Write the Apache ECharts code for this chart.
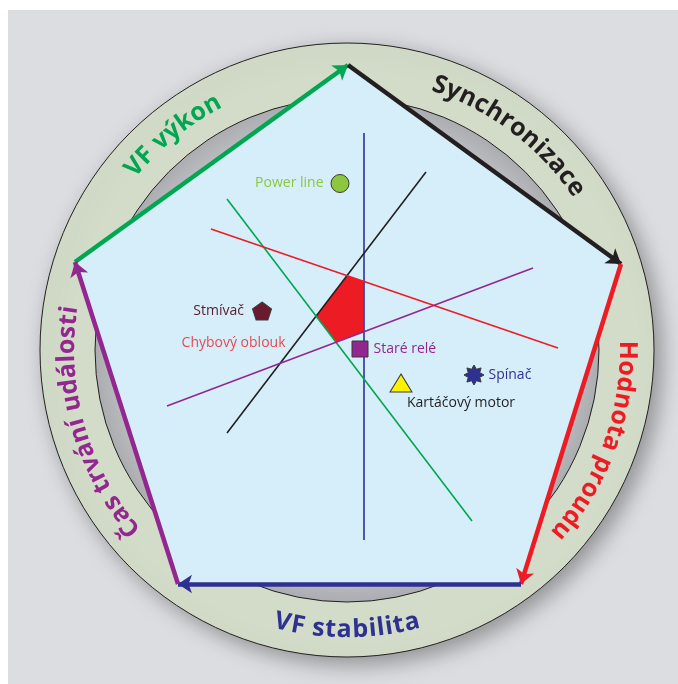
<!DOCTYPE html>
<html>
<head>
<meta charset="utf-8">
<script src="https://cdn.jsdelivr.net/npm/echarts@6/dist/echarts.min.js"></script>
<style>
    html, body { margin: 0; padding: 0; background: #fff; }
    #chart { width: 678px; height: 684px; background: #dcdde0; box-shadow: inset 8px 10px 0 #fff; }
</style>
</head>
<body>
<div id="chart"></div>
<script>
// diagram units: origin in the ring centre, y pointing up
var ringCentre = [0, 0];
var ringRadii = [252, 307];
var labelRadius = 280;

// pentagon corners: top, right, bottom right, bottom left, left
var pentagonX = [1, 274, 174, -169, -272];
var pentagonY = [285, 86, -234, -234, 88];

// arrows along the pentagon and their names around the ring
var edgeLabels = ['VF výkon', 'Synchronizace', 'Hodnota proudu', 'VF stabilita', 'Čas trvání události'];
var edgeFrom = [4, 0, 1, 2, 3];
var edgeTo = [0, 1, 2, 3, 4];
var labelAngles = [129, 53, -20, -90, 196];

// straight lines inside the pentagon
var lineStartX = [16.5, -120, -120, -136, -180];
var lineStartY = [217, -83, 151, 121, -56];
var lineEndX = [16.5, 79, 125, 211, 186];
var lineEndY = [-190, 178, -171, 2, 82];

// red area (Chybový oblouk)
var regionName = 'Chybový oblouk';
var regionX = [0, 16.5, 16.5, -11, -31];
var regionY = [74, 68.5, 18, 8, 34];
var regionLabelPos = [-61, 7];

// devices
var markerNames = ['Power line', 'Stmívač', 'Staré relé', 'Kartáčový motor', 'Spínač'];
var markerX = [-7, -85, 13, 54, 127];
var markerY = [166.5, 39, 1, -33, -25];

var edgeColors = ['#00a651', '#231f20', '#ed1c24', '#2e3192', '#92278f'];
var lineColors = ['#2e3192', '#231f20', '#00a651', '#ed1c24', '#92278f'];
var markerColors = ['#8dc63f', '#6b1a2e', '#92278f', '#fff200', '#2e3192'];
var markerTextColors = ['#8dc63f', '#5c1a2c', '#92278f', '#231f20', '#2e3192'];

function starPath(points, inner) {
    var d = '';
    for (var k = 0; k < points * 2; k++) {
        var a = Math.PI * k / points - Math.PI / 2;
        var rr = k % 2 ? inner : 1;
        d += (k ? 'L' : 'M') + (rr * Math.cos(a)).toFixed(3) + ',' + (rr * Math.sin(a)).toFixed(3);
    }
    return 'path://' + d + 'Z';
}
var pentagonSymbol = 'path://M0,-1L0.951,-0.309L0.588,0.809L-0.588,0.809L-0.951,-0.309Z';
var markerSymbols = ['circle', pentagonSymbol, 'rect', 'triangle', starPath(8, 0.62)];
var markerSizes = [18, [19, 18], 16, [22, 18], 20];
var markerLabelPos = ['left', 'left', 'right', 'bottom', 'right'];
var markerLabelDist = [7, 8, 5, 4, 4];
var markerLabelOffset = [[0, 0], [0, 0], [0, 0], [60, 0], [0, 0]];
var smallFont = 14;

var ringFont = { size: 25, weight: 'bold', family: 'Open Sans' };
var measureCtx = document.createElement('canvas').getContext('2d');
measureCtx.font = ringFont.weight + ' ' + ringFont.size + 'px "' + ringFont.family + '"';

function renderRing(params, api) {
    var c = api.coord(ringCentre);
    var r0 = api.size([ringRadii[0], 0])[0];
    var r1 = api.size([ringRadii[1], 0])[0];
    return {
        type: 'group',
        children: [{
            type: 'circle',
            shape: { cx: c[0], cy: c[1], r: r1 },
            style: {
                fill: '#d3dcc8', stroke: '#231f20', lineWidth: 1,
                shadowBlur: 22, shadowColor: 'rgba(0,0,0,0.35)', shadowOffsetX: 7, shadowOffsetY: 7
            }
        }, {
            type: 'circle',
            shape: { cx: c[0], cy: c[1], r: r0 },
            style: {
                fill: new echarts.graphic.RadialGradient(0.5, 0.5, 0.5, [
                    { offset: 0, color: '#dcdde0' },
                    { offset: 0.8, color: '#d0d1d4' },
                    { offset: 1, color: '#abacb0' }
                ]),
                stroke: '#231f20', lineWidth: 1
            }
        }]
    };
}

function polygonRenderer(xs, ys, fill) {
    return function (params, api) {
        var pts = xs.map(function (x, i) { return api.coord([x, ys[i]]); });
        return { type: 'polygon', shape: { points: pts }, style: { fill: fill } };
    };
}

function renderRingLabel(params, api) {
    var i = params.dataIndex;
    var chars = edgeLabels[i].split('');
    var c = api.coord(ringCentre);
    var r = api.size([labelRadius, 0])[0];
    var theta = api.value(0) * Math.PI / 180;
    var upright = Math.sin(theta) < -0.5;
    var widths = chars.map(function (ch) { return measureCtx.measureText(ch).width + 0.6; });
    var total = widths.reduce(function (a, b) { return a + b; }, 0);
    var dir = upright ? 1 : -1;
    var t = theta - dir * total / r / 2;
    var acc = 0;
    var children = chars.map(function (ch, k) {
        var a = t + dir * (acc + widths[k] / 2) / r;
        acc += widths[k];
        return {
            type: 'text',
            x: c[0] + r * Math.cos(a),
            y: c[1] - r * Math.sin(a),
            rotation: upright ? a + Math.PI / 2 : a - Math.PI / 2,
            style: {
                text: ch, fill: edgeColors[i],
                fontSize: ringFont.size, fontWeight: ringFont.weight, fontFamily: ringFont.family,
                align: 'center', verticalAlign: 'middle'
            }
        };
    });
    return { type: 'group', children: children };
}

var chart = echarts.init(document.getElementById('chart'));
chart.setOption({
    animation: false,
    grid: { left: 0, right: 0, top: 0, bottom: 0 },
    xAxis: { type: 'value', min: -347, max: 331, show: false },
    yAxis: { type: 'value', min: -334, max: 350, show: false },
    series: [{
        type: 'custom',
        z: 1,
        renderItem: renderRing,
        data: [[ringCentre[0], ringCentre[1]]]
    }, {
        type: 'custom',
        z: 2,
        renderItem: polygonRenderer(pentagonX, pentagonY, '#d6eefa'),
        data: [[pentagonX[0], pentagonY[0]]]
    }, {
        type: 'custom',
        z: 3,
        renderItem: polygonRenderer(regionX, regionY, '#ed1c24'),
        data: [[regionX[0], regionY[0]]]
    }, {
        type: 'lines',
        coordinateSystem: 'cartesian2d',
        z: 4,
        symbol: 'none',
        lineStyle: { width: 1.6, opacity: 1 },
        data: lineStartX.map(function (x, i) {
            return {
                coords: [[x, lineStartY[i]], [lineEndX[i], lineEndY[i]]],
                lineStyle: { color: lineColors[i] }
            };
        })
    }, {
        type: 'lines',
        coordinateSystem: 'cartesian2d',
        z: 5,
        symbol: ['none', 'arrow'],
        symbolSize: 14,
        lineStyle: { width: 4.5, opacity: 1 },
        data: edgeFrom.map(function (f, i) {
            var t = edgeTo[i];
            return {
                coords: [[pentagonX[f], pentagonY[f]], [pentagonX[t], pentagonY[t]]],
                lineStyle: { color: edgeColors[i] }
            };
        })
    }, {
        type: 'scatter',
        z: 6,
        data: [{
            name: regionName,
            value: regionLabelPos,
            symbol: 'circle',
            symbolSize: 1,
            itemStyle: { color: 'rgba(0,0,0,0)' },
            label: {
                show: true, position: 'left', distance: 0,
                formatter: '{b}', color: '#ed1c24',
                fontSize: smallFont, fontFamily: 'Open Sans'
            }
        }]
    }, {
        type: 'scatter',
        z: 6,
        data: markerNames.map(function (n, i) {
            return {
                name: n,
                value: [markerX[i], markerY[i]],
                symbol: markerSymbols[i],
                symbolSize: markerSizes[i],
                itemStyle: { color: markerColors[i], borderColor: '#3a3a3a', borderWidth: 1, opacity: 1 },
                label: {
                    show: true,
                    formatter: '{b}',
                    position: markerLabelPos[i],
                    distance: markerLabelDist[i],
                    offset: markerLabelOffset[i],
                    color: markerTextColors[i],
                    fontSize: smallFont, fontFamily: 'Open Sans'
                }
            };
        })
    }, {
        type: 'custom',
        z: 7,
        renderItem: renderRingLabel,
        data: labelAngles.map(function (a) { return [a]; })
    }]
});
</script>
</body>
</html>
